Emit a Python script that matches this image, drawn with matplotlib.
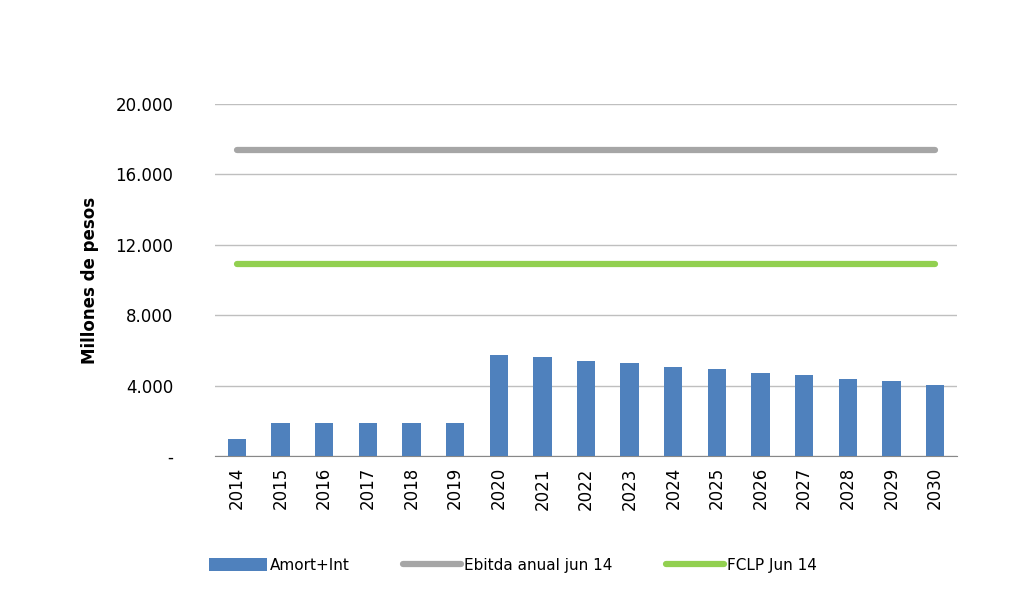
import numpy as np
import matplotlib.pyplot as plt
from matplotlib.ticker import FuncFormatter

# Data (millones de pesos)
years = ['2014', '2015', '2016', '2017', '2018', '2019', '2020', '2021', '2022',
         '2023', '2024', '2025', '2026', '2027', '2028', '2029', '2030']
amort_int = [940, 1850, 1850, 1850, 1850, 1850, 5730, 5640, 5390,
             5270, 5050, 4930, 4700, 4590, 4360, 4250, 4020]
ebitda = [17400] * len(years)
fclp = [10900] * len(years)

fig = plt.figure(figsize=(10.26, 6.06), dpi=100)
ax = fig.add_axes([0.2096, 0.2475, 0.7231, 0.5809])

x = np.arange(len(years))
bars = ax.bar(x, amort_int, width=0.42, color='#4F81BD', label='Amort+Int', zorder=3)
l1, = ax.plot(x, ebitda, color='#A6A6A6', lw=4.5, solid_capstyle='round',
              label='Ebitda anual jun 14', zorder=3)
l2, = ax.plot(x, fclp, color='#92D050', lw=4.5, solid_capstyle='round',
              label='FCLP Jun 14', zorder=3)

ax.set_xlim(-0.5, len(years) - 0.5)
ax.set_ylim(0, 20000)
ax.set_yticks(range(0, 20001, 4000))

def fmt(v, pos):
    if v == 0:
        return '-'
    return f'{int(v):,}'.replace(',', '.')

ax.yaxis.set_major_formatter(FuncFormatter(fmt))
ax.yaxis.grid(True, color='#BFBFBF', lw=1)
ax.set_axisbelow(True)

ax.set_xticks(x)
ax.set_xticklabels(years, rotation=90, fontsize=12)
ax.tick_params(axis='y', labelsize=12, length=0, pad=30)
ax.tick_params(axis='x', length=0, pad=8)

for s in ['top', 'right', 'left']:
    ax.spines[s].set_visible(False)
ax.spines['bottom'].set_color('#888888')

ax.set_ylabel('Millones de pesos', fontsize=12, fontweight='bold', labelpad=12)

ax.legend([bars, l1, l2], ['Amort+Int', 'Ebitda anual jun 14', 'FCLP Jun 14'],
          loc='center', bbox_to_anchor=(0.5, 0.0667), bbox_transform=fig.transFigure,
          ncol=3, frameon=False, fontsize=11, handlelength=3.8, handleheight=0.9,
          columnspacing=3.5, handletextpad=0.2)

plt.savefig('out.png', dpi=100)
